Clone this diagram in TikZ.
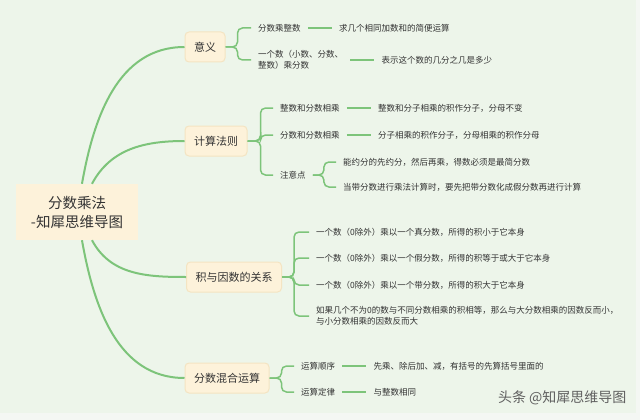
\documentclass[tikz,border=0pt]{standalone}
\usepackage{fontspec}
\setmainfont{Noto Sans CJK SC}
\usetikzlibrary{positioning}
\definecolor{bgcol}{HTML}{EDF5EA}
\definecolor{rimcol}{HTML}{F4F7F3}
\definecolor{linecol}{HTML}{7DC47A}
\definecolor{boxcol}{HTML}{FDF2DA}
\definecolor{boxline}{HTML}{F4E4C2}
\definecolor{txtcol}{HTML}{333333}
\tikzset{x=1pt, y=-1pt}
\tikzset{root/.style={fill=boxcol, text=txtcol, minimum width=122pt, minimum height=56pt,
    align=center, font=\fontsize{14.5}{19}\selectfont}}
\tikzset{topic/.style={fill=boxcol, draw=boxline, line width=1pt, rounded corners=4pt,
    text=txtcol, inner xsep=9pt, minimum height=30pt, font=\fontsize{11}{13}\selectfont}}
\tikzset{leaf/.style={text=txtcol, inner xsep=7pt, inner ysep=2pt, align=left,
    font=\fontsize{8.5}{11}\selectfont}}
\tikzset{mainline/.style={linecol, line width=2pt}}
\tikzset{subline/.style={linecol, line width=1.5pt, rounded corners=5pt}}

\begin{document}
\begin{tikzpicture}
    \useasboundingbox (0, 0) rectangle (640, 420);
    \fill[rimcol] (0, 0) rectangle (640, 420);
    \fill[bgcol] (0, 0) rectangle (636, 413);
    \node[root] (R) at (77, 212) {分数乘法\\-知犀思维导图};
    \node[topic] (A) at (205, 47) {意义};
    \node[topic] (B) at (216, 141) {计算法则};
    \node[topic] (C) at (234, 277) {积与因数的关系};
    \node[topic] (D) at (227, 378) {分数混合运算};
    \draw[mainline] (R) to[out=80, in=180] (A.west);
    \draw[mainline] (R) to[out=62, in=180] (B.west);
    \draw[mainline] (R) to[out=-62, in=180] (C.west);
    \draw[mainline] (R) to[out=-80, in=180] (D.west);
    % 意义
    \node[leaf, anchor=west] (A1) at (251, 28) {分数乘整数};
    \node[leaf, anchor=west] (A2) at (251, 60) {一个数（小数、分数、\\整数）乘分数};
    \node[leaf, right=24pt of A1] (A1r) {求几个相同加数和的简便运算};
    \node[leaf, right=24pt of A2] (A2r) {表示这个数的几分之几是多少};
    \foreach \n in {A1, A2}
        \draw[subline] (A.east) -- ++(12, 0) |- (\n.west);
    \draw[subline] (A1) -- (A1r);
    \draw[subline] (A2.east |- A2r) -- (A2r);
    % 计算法则
    \node[leaf, anchor=west] (B1) at (273, 108) {整数和分数相乘};
    \node[leaf, anchor=west] (B2) at (273, 135) {分数和分数相乘};
    \node[leaf, anchor=west] (B3) at (273, 175) {注意点};
    \node[leaf, right=24pt of B1] (B1r) {整数和分子相乘的积作分子，分母不变};
    \node[leaf, right=24pt of B2] (B2r) {分子相乘的积作分子，分母相乘的积作分母};
    \foreach \n in {B1, B2, B3}
        \draw[subline] (B.east) -- ++(13, 0) |- (\n.west);
    \draw[subline] (B1) -- (B1r);
    \draw[subline] (B2) -- (B2r);
    \node[leaf, anchor=west] (B31) at (336, 162) {能约分的先约分，然后再乘，得数必须是最简分数};
    \node[leaf, anchor=west] (B32) at (336, 187) {当带分数进行乘法计算时，要先把带分数化成假分数再进行计算};
    \foreach \n in {B31, B32}
        \draw[subline] (B3.east) -- ++(11, 0) |- (\n.west);
    % 积与因数的关系
    \node[leaf, anchor=west] (C1) at (309, 232) {一个数（0除外）乘以一个真分数，所得的积小于它本身};
    \node[leaf, anchor=west] (C2) at (309, 258) {一个数（0除外）乘以一个假分数，所得的积等于或大于它本身};
    \node[leaf, anchor=west] (C3) at (309, 285) {一个数（0除外）乘以一个带分数，所得的积大于它本身};
    \node[leaf, anchor=west] (C4) at (309, 316) {如果几个不为0的数与不同分数相乘的积相等，那么与大分数相乘的因数反而小，\\与小分数相乘的因数反而大};
    \foreach \n in {C1, C2, C3, C4}
        \draw[subline] (C.east) -- ++(12, 0) |- (\n.west);
    % 分数混合运算
    \node[leaf, anchor=west] (D1) at (294, 366) {运算顺序};
    \node[leaf, anchor=west] (D2) at (294, 392) {运算定律};
    \node[leaf, right=24pt of D1] (D1r) {先乘、除后加、减，有括号的先算括号里面的};
    \node[leaf, right=24pt of D2] (D2r) {与整数相同};
    \foreach \n in {D1, D2}
        \draw[subline] (D.east) -- ++(12, 0) |- (\n.west);
    \draw[subline] (D1) -- (D1r);
    \draw[subline] (D2) -- (D2r);
    \node[text=gray!75!black, anchor=east, font=\fontsize{14}{16}\selectfont] (W) at (630, 398) {头条 @知犀思维导图};
\end{tikzpicture}
\end{document}
